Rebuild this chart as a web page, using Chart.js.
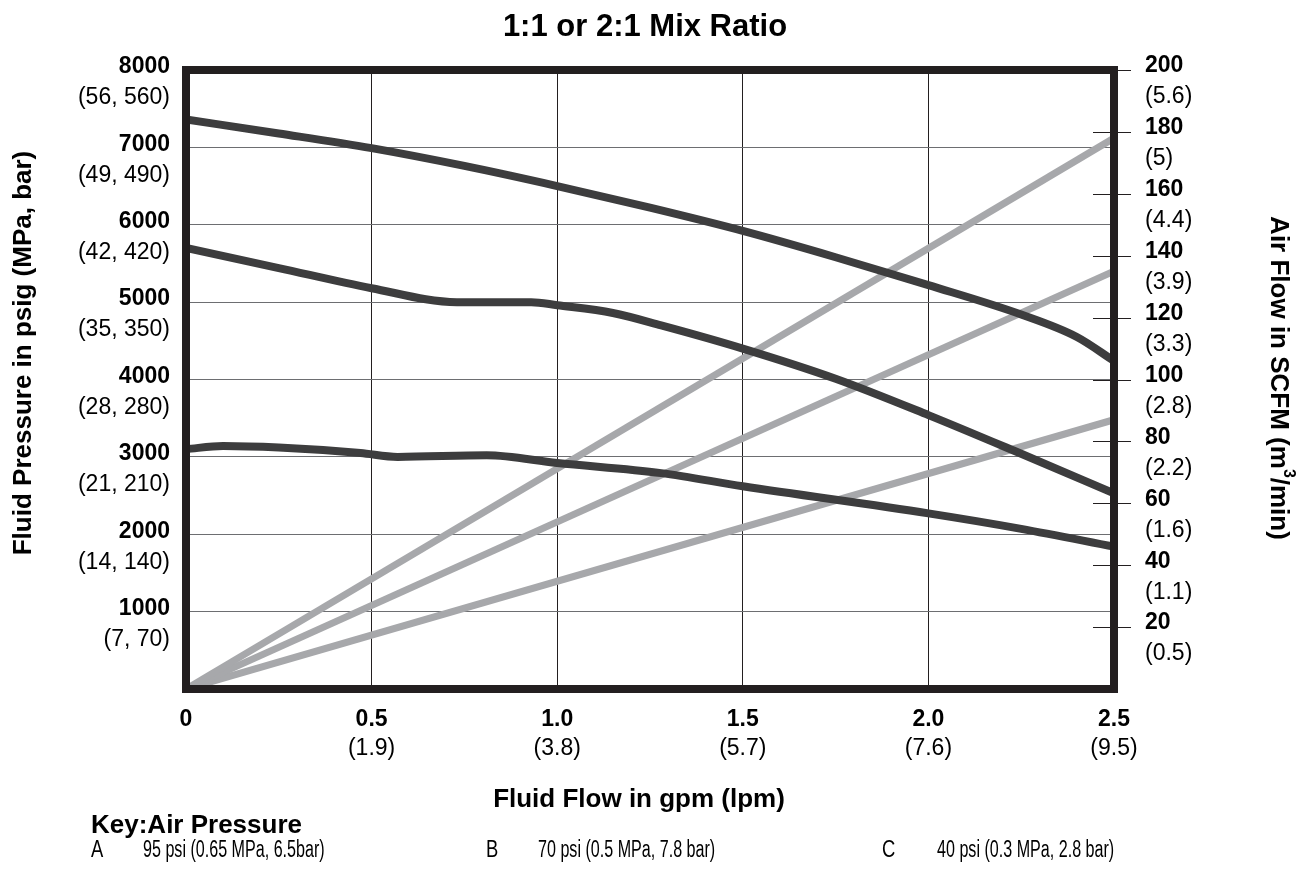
<!DOCTYPE html>
<html>
<head>
<meta charset="utf-8">
<script src="https://cdn.jsdelivr.net/npm/chart.js@4.4.0/dist/chart.umd.min.js"></script>
<style>
html, body { margin: 0; padding: 0; background: #fff; }
</style>
</head>
<body>
<canvas id="mixChart" width="1297" height="869"></canvas>
<script>
// fluid pressure curves (gpm -> psig)
var flowA = [0, 0.25, 0.5, 0.75, 1.0, 1.25, 1.5, 1.75, 2.0, 2.25, 2.4, 2.5];
var pressureA = [7360, 7180, 6990, 6760, 6500, 6220, 5920, 5580, 5220, 4840, 4550, 4240];

var flowB = [0, 0.25, 0.5, 0.73, 0.93, 1.0, 1.15, 1.28, 1.5, 1.75, 2.0, 2.25, 2.5];
var pressureB = [5700, 5440, 5180, 5000, 5000, 4960, 4860, 4700, 4400, 4010, 3540, 3040, 2530];

var flowC = [0, 0.1, 0.25, 0.47, 0.57, 0.81, 1.0, 1.28, 1.5, 2.0, 2.25, 2.5];
var pressureC = [3100, 3140, 3120, 3050, 3000, 3020, 2920, 2790, 2620, 2270, 2070, 1840];

// air consumption lines (gpm -> scfm)
var airFlow = [0, 2.5];
var airA = [0, 178];
var airB = [0, 135];
var airC = [0, 87];

// tick labels
var xTicks = [0, 0.5, 1.0, 1.5, 2.0, 2.5];
var xTickLabels = ['0', '0.5', '1.0', '1.5', '2.0', '2.5'];
var xTickLpm = ['', '(1.9)', '(3.8)', '(5.7)', '(7.6)', '(9.5)'];
var psiTicks = [1000, 2000, 3000, 4000, 5000, 6000, 7000, 8000];
var psiTickMetric = ['(7, 70)', '(14, 140)', '(21, 210)', '(28, 280)', '(35, 350)', '(42, 420)', '(49, 490)', '(56, 560)'];
var scfmTicks = [20, 40, 60, 80, 100, 120, 140, 160, 180, 200];
var scfmTickMetric = ['(0.5)', '(1.1)', '(1.6)', '(2.2)', '(2.8)', '(3.3)', '(3.9)', '(4.4)', '(5)', '(5.6)'];

var keyLetters = ['A', 'B', 'C'];
var keyTexts = ['95 psi (0.65 MPa, 6.5bar)', '70 psi (0.5 MPa, 7.8 bar)', '40 psi (0.3 MPa, 2.8 bar)'];

var FONT = '"Liberation Sans", Arial, Helvetica, sans-serif';
var INK = '#231f20';

function toPoints(xs, ys) {
    var pts = [];
    for (var i = 0; i < xs.length; i++) {
        pts.push({ x: xs[i], y: ys[i] });
    }
    return pts;
}

function pressureSet(xs, ys) {
    return {
        data: toPoints(xs, ys), yAxisID: 'y',
        borderColor: '#3d3d3e', borderWidth: 8, pointRadius: 0,
        cubicInterpolationMode: 'monotone', borderCapStyle: 'butt', fill: false
    };
}

function airSet(xs, ys) {
    return {
        data: toPoints(xs, ys), yAxisID: 'y1',
        borderColor: '#a7a8ab', borderWidth: 7, pointRadius: 0,
        tension: 0, borderCapStyle: 'butt', fill: false
    };
}

// 枠・目盛・文字を描くプラグイン
var labelPlugin = {
    id: 'labelPlugin',
    afterDraw: function(chart) {
        var ctx = chart.ctx;
        var area = chart.chartArea;
        var sx = chart.scales.x;
        var sy = chart.scales.y;
        var sy1 = chart.scales.y1;
        var i, py, px;

        ctx.save();

        // right axis tick marks
        ctx.strokeStyle = INK;
        ctx.lineWidth = 1;
        for (i = 0; i < scfmTicks.length; i++) {
            py = Math.round(sy1.getPixelForValue(scfmTicks[i])) + 0.5;
            ctx.beginPath();
            ctx.moveTo(area.right - 21, py);
            ctx.lineTo(area.right + 17, py);
            ctx.stroke();
        }

        // thick frame
        ctx.strokeStyle = INK;
        ctx.lineWidth = 8;
        ctx.lineJoin = 'miter';
        ctx.strokeRect(area.left, area.top, area.right - area.left, area.bottom - area.top);

        ctx.fillStyle = '#000';
        ctx.textBaseline = 'middle';

        // left ticks
        ctx.textAlign = 'right';
        for (i = 0; i < psiTicks.length; i++) {
            py = sy.getPixelForValue(psiTicks[i]);
            ctx.font = 'bold 23px ' + FONT;
            ctx.fillText(String(psiTicks[i]), 170, py - 3);
            ctx.font = '23px ' + FONT;
            ctx.fillText(psiTickMetric[i], 170, py + 28);
        }

        // right ticks
        ctx.textAlign = 'left';
        for (i = 0; i < scfmTicks.length; i++) {
            py = sy1.getPixelForValue(scfmTicks[i]);
            ctx.font = 'bold 23px ' + FONT;
            ctx.fillText(String(scfmTicks[i]), 1145, py - 4);
            ctx.font = '23px ' + FONT;
            ctx.fillText(scfmTickMetric[i], 1145, py + 27);
        }

        // bottom ticks
        ctx.textAlign = 'center';
        for (i = 0; i < xTicks.length; i++) {
            px = sx.getPixelForValue(xTicks[i]);
            ctx.font = 'bold 23px ' + FONT;
            ctx.fillText(xTickLabels[i], px, 720);
            if (xTickLpm[i]) {
                ctx.font = '23px ' + FONT;
                ctx.fillText(xTickLpm[i], px, 749);
            }
        }

        // title
        ctx.font = 'bold 31px ' + FONT;
        ctx.fillText('1:1 or 2:1 Mix Ratio', 645, 27);

        // x axis title
        ctx.font = 'bold 26px ' + FONT;
        ctx.fillText('Fluid Flow in gpm (lpm)', 639, 800);

        // left axis title
        ctx.save();
        ctx.translate(24, 353);
        ctx.rotate(-Math.PI / 2);
        ctx.font = 'bold 26px ' + FONT;
        ctx.fillText('Fluid Pressure in psig (MPa, bar)', 0, 0);
        ctx.restore();

        // right axis title with superscript
        ctx.save();
        ctx.translate(1278, 378);
        ctx.rotate(Math.PI / 2);
        var partA = 'Air Flow in SCFM (m';
        var partB = '/min)';
        ctx.font = 'bold 26px ' + FONT;
        var wA = ctx.measureText(partA).width;
        var wB = ctx.measureText(partB).width;
        ctx.font = 'bold 16px ' + FONT;
        var wS = ctx.measureText('3').width;
        var x0 = -(wA + wS + wB) / 2;
        ctx.textAlign = 'left';
        ctx.font = 'bold 26px ' + FONT;
        ctx.fillText(partA, x0, 0);
        ctx.font = 'bold 16px ' + FONT;
        ctx.fillText('3', x0 + wA, -10);
        ctx.font = 'bold 26px ' + FONT;
        ctx.fillText(partB, x0 + wA + wS, 0);
        ctx.restore();

        // key
        ctx.textAlign = 'left';
        ctx.font = 'bold 26px ' + FONT;
        ctx.fillText('Key:Air Pressure', 91, 826);
        var letterX = [91, 486, 882];
        var textX = [143, 538, 937];
        for (i = 0; i < keyLetters.length; i++) {
            ctx.save();
            ctx.font = '23px ' + FONT;
            ctx.translate(letterX[i], 851);
            ctx.scale(0.8, 1);
            ctx.fillText(keyLetters[i], 0, 0);
            ctx.restore();
            ctx.save();
            ctx.font = '23px ' + FONT;
            ctx.translate(textX[i], 851);
            ctx.scale(0.7, 1);
            ctx.fillText(keyTexts[i], 0, 0);
            ctx.restore();
        }

        ctx.restore();
    }
};

var ctx = document.getElementById('mixChart').getContext('2d');
new Chart(ctx, {
    type: 'line',
    data: {
        datasets: [
            pressureSet(flowA, pressureA),
            pressureSet(flowB, pressureB),
            pressureSet(flowC, pressureC),
            airSet(airFlow, airA),
            airSet(airFlow, airB),
            airSet(airFlow, airC)
        ]
    },
    options: {
        responsive: false,
        animation: false,
        events: [],
        layout: { padding: { left: 186, right: 183, top: 70, bottom: 180 } },
        plugins: { legend: { display: false }, tooltip: { enabled: false }, title: { display: false } },
        scales: {
            x: {
                type: 'linear', min: 0, max: 2.5,
                ticks: { stepSize: 0.5, display: false },
                grid: { color: INK, lineWidth: 1, drawTicks: false },
                border: { display: false }
            },
            y: {
                type: 'linear', position: 'left', min: 0, max: 8000,
                ticks: { stepSize: 1000, display: false },
                grid: { color: '#6d6e71', lineWidth: 1, drawTicks: false },
                border: { display: false }
            },
            y1: {
                type: 'linear', position: 'right', min: 0, max: 200,
                ticks: { stepSize: 20, display: false },
                grid: { display: false, drawTicks: false },
                border: { display: false }
            }
        }
    },
    plugins: [labelPlugin]
});
</script>
</body>
</html>
